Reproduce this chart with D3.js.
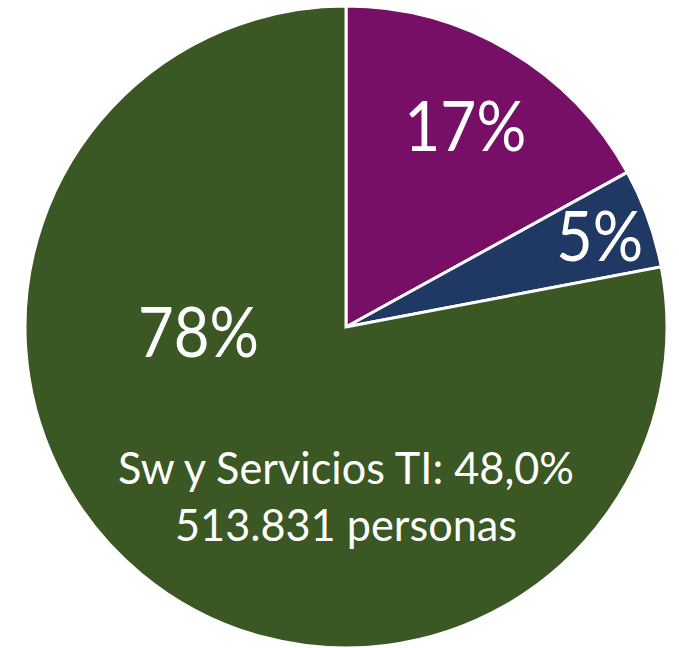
<!DOCTYPE html>
<html><head><meta charset="utf-8">
<script src="https://cdn.jsdelivr.net/npm/d3@7"></script>
<style>html,body{margin:0;padding:0;background:#fff;}svg{display:block;}</style>
</head><body>
<svg id="chart" width="679" height="648"></svg>
<script>
const categories = ["Hardware", "Comunicaciones", "Sw y Servicios TI"];
const values = [17, 5, 78];
const valueLabels = ["17%", "5%", "78%"];
const colors = ["#770F67", "#203864", "#3A5724"];
const noteLines = ["Sw y Servicios TI: 48,0%", "513.831 personas"];

const W = 679, H = 648;
const cx = 346, cy = 327, R = 321;
const svg = d3.select("#chart");
const g = svg.append("g").attr("transform", `translate(${cx},${cy})`);

const pie = d3.pie().sort(null).value(d => d)(values);
const arc = d3.arc().innerRadius(0).outerRadius(R);

g.selectAll("path.slice").data(pie).join("path")
  .attr("class", "slice")
  .attr("d", arc)
  .attr("fill", (d, i) => colors[i])
  .attr("stroke", "#fff")
  .attr("stroke-width", 3)
  .attr("stroke-linejoin", "miter");

// label placement: fraction of radius, with optional angle override (degrees, clockwise from top)
const labelPos = [
  {r: 0.73, ang: null, len: 122},
  {r: 0.84, ang: null, len: 87},
  {r: 0.46, ang: 268, len: 121}
];
const font = "Lato, 'Open Sans', sans-serif";
pie.forEach((d, i) => {
  const p = labelPos[i];
  const a = p.ang !== null ? p.ang * Math.PI / 180 : (d.startAngle + d.endAngle) / 2;
  const x = Math.sin(a) * R * p.r, y = -Math.cos(a) * R * p.r;
  g.append("text")
    .attr("x", x).attr("y", y)
    .attr("text-anchor", "middle")
    .attr("dy", "0.36em")
    .attr("fill", "#fff")
    .attr("font-family", font)
    .attr("font-size", 70)
    .attr("textLength", p.len)
    .attr("lengthAdjust", "spacingAndGlyphs")
    .text(valueLabels[i]);
});

const noteLens = [456, 342];
noteLines.forEach((t, i) => {
  g.append("text")
    .attr("x", 0).attr("y", 0.49 * R + i * 57)
    .attr("text-anchor", "middle")
    .attr("fill", "#fff")
    .attr("font-family", font)
    .attr("font-size", 44)
    .attr("textLength", noteLens[i])
    .attr("lengthAdjust", "spacingAndGlyphs")
    .text(t);
});
</script>
</body></html>
